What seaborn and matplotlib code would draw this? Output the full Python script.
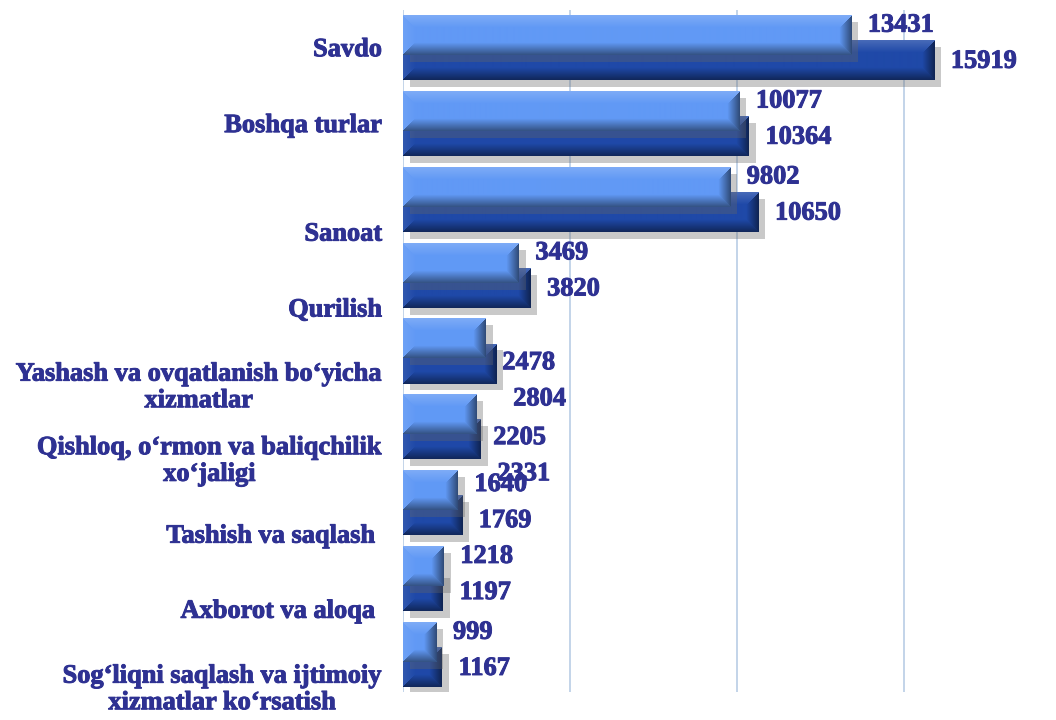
"""
Horizontal bar chart: two series per sector, Excel-like bevel look
"""

import matplotlib
matplotlib.use('Agg')
import matplotlib.pyplot as plt
import matplotlib.patheffects as pe
import matplotlib.transforms as mtransforms
from matplotlib.colors import to_rgb
import seaborn as sns
import numpy as np
import pandas as pd

# Data
categories = [
    "Savdo",
    "Boshqa turlar",
    "Sanoat",
    "Qurilish",
    "Yashash va ovqatlanish bo\u2018yicha\nxizmatlar",
    "Qishloq, o\u2018rmon va baliqchilik\nxo\u2018jaligi",
    "Tashish va saqlash ",
    "Axborot va aloqa ",
    "Sog\u2018liqni saqlash va ijtimoiy\nxizmatlar ko\u2018rsatish",
]
series_light = [13431, 10077, 9802, 3469, 2478, 2205, 1640, 1218, 999]
series_dark = [15919, 10364, 10650, 3820, 2804, 2331, 1769, 1197, 1167]

# Style
LIGHT = "#6199F5"
DARK = "#1F49A8"
TEXT = "#2E3192"
GRID = "#B9CDE5"
BAR_H = 0.527
SHIFT = 0.165
# vertical label placement (Excel put most labels below the group centre)
cat_label_shift = [0.03, 0.03, 0.46, 0.46, 0.48, 0.45, 0.44, 0.43, 0.46]
value_nudge_px = [0, 0, 0, 0, 34, 33, 4, 0, 0]

sns.set_theme(style="white")
plt.rcParams['font.family'] = ['Liberation Serif', 'DejaVu Serif']


def bevel_image(color, w, h, b=12):
    """RGB array for a bar face with an angled bevel on every side"""
    base = np.array(to_rgb(color))
    yy, xx = np.mgrid[0:h, 0:w]
    dist = np.stack([yy, h - 1 - yy, xx, w - 1 - xx]).astype(float)
    which = dist.argmin(axis=0)
    dmin = dist.min(axis=0)
    t = np.clip(1 - dmin / b, 0, 1)
    # top, bottom, left, right: >0 towards white, <0 towards black
    amount = np.array([0.18, -0.45, 0.08, -0.5])[which] * t
    img = np.empty((h, w, 3))
    for c in range(3):
        up = base[c] + (1 - base[c]) * np.clip(amount, 0, None)
        img[..., c] = np.where(amount >= 0, up, base[c] * (1 + amount))
    return img


idx = list(range(len(categories)))
df_light = pd.DataFrame({"pos": [i - SHIFT for i in idx], "value": series_light})
df_dark = pd.DataFrame({"pos": [i + SHIFT for i in idx], "value": series_dark})

fig = plt.figure(figsize=(10.56, 7.2), dpi=100)
ax = fig.add_axes([0.3816, 0.0382, 0.6004, 0.9486])

shadow = [pe.SimplePatchShadow(offset=(5, -5), shadow_rgbFace=(0.4, 0.4, 0.4), alpha=0.35),
          pe.Normal()]

# dark bars first, light bars drawn over them
sns.barplot(data=df_dark, x="value", y="pos", orient="y", native_scale=True,
            width=BAR_H, color=DARK, saturation=1, linewidth=0, ax=ax)
n_dark = len(ax.patches)
sns.barplot(data=df_light, x="value", y="pos", orient="y", native_scale=True,
            width=BAR_H, color=LIGHT, saturation=1, linewidth=0, ax=ax)

ax.set_xlim(0, 19000)
ax.set_ylim(len(categories) - 0.5, -0.5)
ax.set_xticks([0, 5000, 10000, 15000])
ax.set_xticklabels([])
ax.set_yticks([])
ax.set_xlabel("")
ax.set_ylabel("")
ax.grid(axis="x", color=GRID, linewidth=1.2)
ax.set_axisbelow(True)
for s in ax.spines.values():
    s.set_visible(False)

# bevel faces on top of each bar
for k, p in enumerate(ax.patches):
    is_dark = k < n_dark
    base_z = 2 if is_dark else 3
    p.set_zorder(base_z)
    p.set_path_effects(shadow)
    x0, y0 = p.get_x(), p.get_y()
    x1, y1 = x0 + p.get_width(), y0 + p.get_height()
    (px0, py0), (px1, py1) = ax.transData.transform([(x0, y0), (x1, y1)])
    w, h = max(int(round(abs(px1 - px0))), 2), max(int(round(abs(py1 - py0))), 2)
    img = bevel_image(DARK if is_dark else LIGHT, w, h)
    ax.imshow(img, extent=(x0, x1, y1, y0), origin="upper", aspect="auto",
              interpolation="bilinear", zorder=base_z + 0.1)

ax.set_xlim(0, 19000)
ax.set_ylim(len(categories) - 0.5, -0.5)

# value labels
bold_fx = [pe.withStroke(linewidth=0.7, foreground=TEXT)]
for i in idx:
    nudge = value_nudge_px[i] * 0.72
    ax.annotate(f"{series_light[i]}", xy=(series_light[i], i - SHIFT),
                xytext=(12, 7 - nudge), textcoords="offset points",
                ha="left", va="center", fontsize=19, fontweight="bold",
                color=TEXT, path_effects=bold_fx, zorder=5)
    ax.annotate(f"{series_dark[i]}", xy=(series_dark[i], i + SHIFT),
                xytext=(12, -1 - nudge), textcoords="offset points",
                ha="left", va="center", fontsize=19, fontweight="bold",
                color=TEXT, path_effects=bold_fx, zorder=5)

# category labels
trans = mtransforms.blended_transform_factory(ax.transAxes, ax.transData)
for i, name in enumerate(categories):
    ax.text(-0.033, i + cat_label_shift[i], name, transform=trans,
            ha="right", va="center", multialignment="center",
            fontsize=19, fontweight="bold", color=TEXT, linespacing=1.2,
            path_effects=bold_fx)

fig.savefig("out.png", dpi=100)
plt.close(fig)
